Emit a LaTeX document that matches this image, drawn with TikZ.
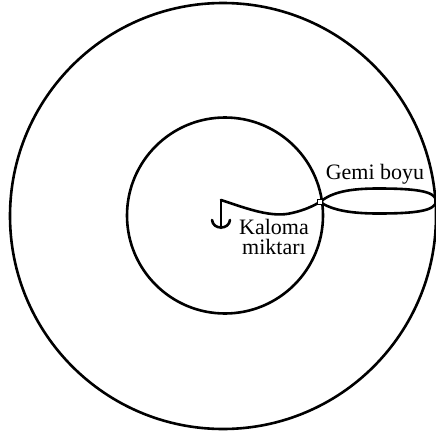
\documentclass[tikz,border=0pt]{standalone}
\usepackage{fontspec}
\setmainfont{Liberation Serif}
\begin{document}
\begin{tikzpicture}[x=1pt,y=-1pt,
  ln/.style={line width=2.6pt, line join=round, line cap=round},
  lbl/.style={font=\fontsize{22}{20}\selectfont, inner sep=0pt}]
\useasboundingbox[fill=white] (0,0) rectangle (436,439);
% circles
\node[ln, draw, circle, minimum size=426pt, inner sep=0pt] (outer) at (223,216) {};
\node[ln, draw, circle, minimum size=196pt, inner sep=0pt] (inner) at (225,215.5) {};
% ship
\coordinate (bow) at (320,202);
\coordinate (stern) at (436,201);
\draw[ln] (bow) .. controls (332,192) and (350,188.5) .. (378,188.5)
  .. controls (415,188.5) and (436,191) .. (stern)
  .. controls (436,211) and (415,213.5) .. (378,213.5)
  .. controls (350,213.5) and (332,210) .. (bow);
% anchor point and cable
\coordinate (anc) at (221,200);
\draw[ln] (anc) .. controls (248,209) and (272,218) .. (292,213)
  .. controls (305,210) and (313,206) .. (bow);
\node[draw, line width=1pt, minimum size=5pt, inner sep=0pt, fill=white] (sq) at (bow) {};
% anchor glyph
\coordinate (ancb) at (221,228);
\draw[ln] (anc) -- (ancb);
\draw[ln] (212,220) .. controls (213,230) and (229,230) .. (230,220);
% labels
\node[lbl, anchor=base] (gemi) at (375,179) {Gemi boyu};
\node[lbl, align=center, anchor=north] (kal) at (274,219) {Kaloma\\miktarı};
\end{tikzpicture}
\end{document}
